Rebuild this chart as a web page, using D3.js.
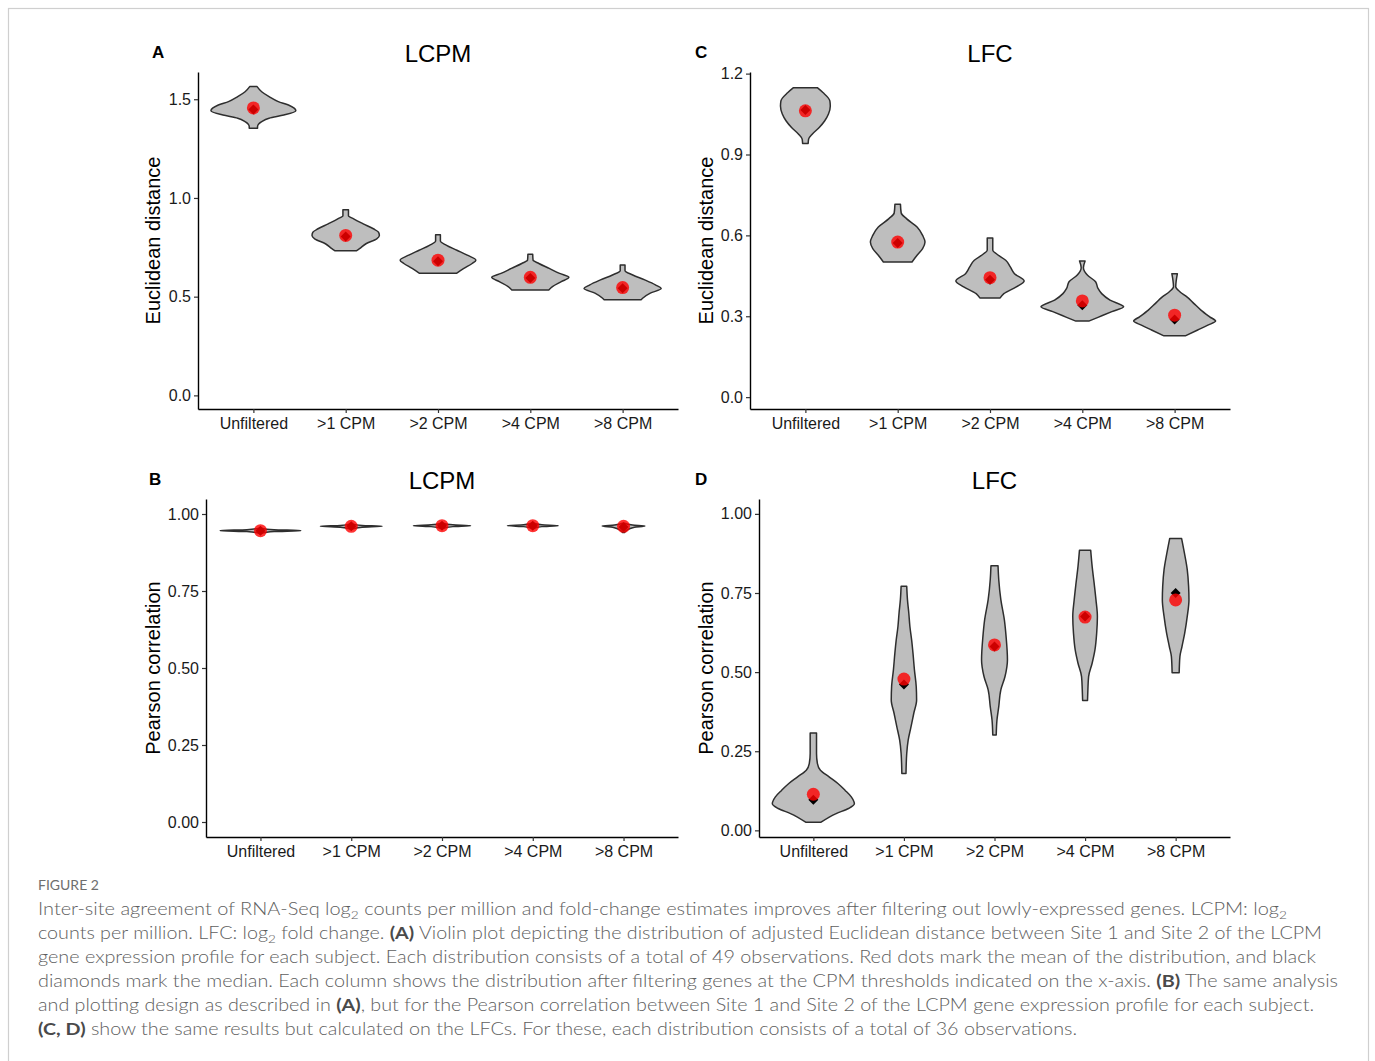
<!DOCTYPE html>
<html>
<head>
<meta charset="utf-8">
<script src="https://cdn.jsdelivr.net/npm/d3@7"></script>
<style>
body { margin: 0; background: #fff; }
svg text { font-family: "Liberation Sans", Arial, sans-serif; }
</style>
</head>
<body>
<div id="fig"></div>
<script>
const categories = ["Unfiltered", ">1 CPM", ">2 CPM", ">4 CPM", ">8 CPM"];

// violin outlines: [value, half width in category steps], top to bottom

// A: LCPM, Euclidean distance
const distLcpmTicks = [0, 0.5, 1.0, 1.5];
const distLcpmMean = [1.456, 0.810, 0.685, 0.598, 0.546];
const distLcpmMedian = [1.448, 0.805, 0.680, 0.594, 0.542];
const distLcpmShape = [
    [[1.564, 0.04], [1.538, 0.09], [1.513, 0.17], [1.488, 0.27], [1.471, 0.38], [1.442, 0.46], [1.420, 0.33], [1.404, 0.17], [1.387, 0.09], [1.362, 0.045], [1.353, 0.045]],
    [[0.940, 0.03], [0.910, 0.03], [0.894, 0.086], [0.869, 0.19], [0.844, 0.30], [0.827, 0.355], [0.810, 0.365], [0.793, 0.336], [0.768, 0.22], [0.743, 0.15], [0.732, 0.115]],
    [[0.813, 0.026], [0.782, 0.026], [0.760, 0.093], [0.735, 0.205], [0.710, 0.317], [0.685, 0.41], [0.668, 0.37], [0.643, 0.28], [0.618, 0.20]],
    [[0.715, 0.026], [0.685, 0.03], [0.668, 0.093], [0.643, 0.205], [0.618, 0.317], [0.598, 0.418], [0.576, 0.336], [0.551, 0.24], [0.534, 0.20]],
    [[0.660, 0.026], [0.631, 0.026], [0.610, 0.11], [0.585, 0.24], [0.560, 0.355], [0.541, 0.418], [0.518, 0.30], [0.493, 0.22], [0.484, 0.20]]
];

// B: LCPM, Pearson correlation
const corLcpmTicks = [0, 0.25, 0.5, 0.75, 1.0];
const corLcpmMean = [0.946, 0.960, 0.962, 0.962, 0.960];
const corLcpmMedian = [0.946, 0.960, 0.962, 0.962, 0.958];
const corLcpmShape = [
    [[0.954, 0.01], [0.949, 0.15], [0.946, 0.445], [0.943, 0.15], [0.937, 0.01]],
    [[0.968, 0.01], [0.963, 0.12], [0.960, 0.34], [0.957, 0.12], [0.951, 0.01]],
    [[0.970, 0.01], [0.965, 0.12], [0.962, 0.315], [0.959, 0.12], [0.953, 0.01]],
    [[0.970, 0.01], [0.965, 0.10], [0.962, 0.28], [0.959, 0.10], [0.953, 0.01]],
    [[0.970, 0.01], [0.964, 0.10], [0.961, 0.235], [0.957, 0.12], [0.946, 0.03], [0.940, 0.01]]
];

// C: LFC, Euclidean distance
const distLfcTicks = [0, 0.3, 0.6, 0.9, 1.2];
const distLfcMean = [1.062, 0.575, 0.443, 0.357, 0.304];
const distLfcMedian = [1.065, 0.572, 0.435, 0.341, 0.288];
const distLfcShape = [
    [[1.148, 0.129], [1.130, 0.19], [1.099, 0.265], [1.080, 0.27], [1.050, 0.25], [1.025, 0.21], [1.000, 0.15], [0.976, 0.076], [0.957, 0.035], [0.941, 0.03]],
    [[0.715, 0.03], [0.683, 0.038], [0.662, 0.095], [0.631, 0.21], [0.600, 0.27], [0.575, 0.296], [0.551, 0.27], [0.526, 0.21], [0.501, 0.155]],
    [[0.590, 0.03], [0.545, 0.03], [0.530, 0.076], [0.508, 0.17], [0.483, 0.22], [0.458, 0.265], [0.431, 0.37], [0.409, 0.285], [0.384, 0.15], [0.368, 0.11]],
    [[0.505, 0.03], [0.480, 0.012], [0.452, 0.057], [0.428, 0.144], [0.403, 0.17], [0.384, 0.21], [0.360, 0.30], [0.335, 0.448], [0.317, 0.32], [0.296, 0.17], [0.282, 0.07]],
    [[0.458, 0.03], [0.409, 0.012], [0.391, 0.057], [0.372, 0.133], [0.347, 0.21], [0.323, 0.285], [0.298, 0.38], [0.282, 0.444], [0.267, 0.36], [0.249, 0.25], [0.228, 0.12]]
];

// D: LFC, Pearson correlation
const corLfcTicks = [0, 0.25, 0.5, 0.75, 1.0];
const corLfcMean = [0.114, 0.478, 0.586, 0.674, 0.728];
const corLfcMedian = [0.097, 0.461, 0.581, 0.676, 0.750];
const corLfcShape = [
    [[0.308, 0.035], [0.275, 0.035], [0.243, 0.035], [0.211, 0.045], [0.190, 0.078], [0.169, 0.174], [0.148, 0.271], [0.127, 0.349], [0.106, 0.419], [0.084, 0.453], [0.069, 0.388], [0.053, 0.252], [0.026, 0.085]],
    [[0.771, 0.031], [0.729, 0.039], [0.686, 0.054], [0.644, 0.066], [0.602, 0.085], [0.560, 0.10], [0.507, 0.116], [0.454, 0.136], [0.412, 0.14], [0.370, 0.109], [0.327, 0.078], [0.285, 0.047], [0.243, 0.031], [0.180, 0.023]],
    [[0.836, 0.039], [0.792, 0.047], [0.729, 0.07], [0.665, 0.109], [0.612, 0.128], [0.539, 0.143], [0.486, 0.116], [0.444, 0.07], [0.391, 0.047], [0.348, 0.027], [0.301, 0.019]],
    [[0.885, 0.062], [0.834, 0.078], [0.781, 0.10], [0.729, 0.12], [0.676, 0.136], [0.623, 0.128], [0.570, 0.109], [0.528, 0.078], [0.486, 0.039], [0.444, 0.031], [0.410, 0.027]],
    [[0.922, 0.066], [0.876, 0.097], [0.824, 0.128], [0.771, 0.143], [0.729, 0.147], [0.676, 0.128], [0.623, 0.10], [0.581, 0.07], [0.549, 0.047], [0.498, 0.039]]
];

const captionLines = [
    [["Inter-site agreement of RNA-Seq log"], ["2", "sub"], [" counts per million and fold-change estimates improves after filtering out lowly-expressed genes. LCPM: log"], ["2", "sub"]],
    [["counts per million. LFC: log"], ["2", "sub"], [" fold change. "], ["(A)", "b"], [" Violin plot depicting the distribution of adjusted Euclidean distance between Site 1 and Site 2 of the LCPM"]],
    [["gene expression profile for each subject. Each distribution consists of a total of 49 observations. Red dots mark the mean of the distribution, and black"]],
    [["diamonds mark the median. Each column shows the distribution after filtering genes at the CPM thresholds indicated on the x-axis. "], ["(B)", "b"], [" The same analysis"]],
    [["and plotting design as described in "], ["(A)", "b"], [", but for the Pearson correlation between Site 1 and Site 2 of the LCPM gene expression profile for each subject."]],
    [["(C, D)", "b"], [" show the same results but calculated on the LFCs. For these, each distribution consists of a total of 36 observations."]]
];
const captionRight = [1287, 1322, 1316, 1338, 1314, 1077];


violinPanel = function () {
    let box = [0, 400, 0, 300],   // left, right, top, bottom
    yDomain = [0, 1],
    ticks = [],
    fmt = ".1f",
    title = "",
    yLabel = "",
    labelX = 0,
    tag = "",
    tagPos = [0, 0];

    function chart(selection) {
        let data = selection.datum();
        let [x0, x1, y0, y1] = box;

        let g = selection.append("g");

        let x = d3.scalePoint()
            .domain(categories)
            .range([x0, x1])
            .padding(0.6);

        let y = d3.scaleLinear()
            .domain(yDomain)
            .range([y1, y0]);

        let area = d3.area()
            .y(d => y(d[0]))
            .x0(d => -d[1] * x.step())
            .x1(d => d[1] * x.step())
            .curve(d3.curveMonotoneY);

        g.append("g")
            .attr("class", "violins")
            .selectAll("path")
            .data(data.shape)
            .enter().append("path")
            .attr("transform", (d, i) => "translate(" + x(categories[i]) + ",0)")
            .attr("d", area)
            .attr("fill", "#bebebe")
            .attr("stroke", "#2e2e2e")
            .attr("stroke-width", 1.5)
            .attr("stroke-linejoin", "round");

        // black diamonds = median
        g.append("g")
            .selectAll("path")
            .data(data.median)
            .enter().append("path")
            .attr("transform", (d, i) => "translate(" + x(categories[i]) + "," + y(d) + ") rotate(45)")
            .attr("d", d3.symbol(d3.symbolSquare, 50))
            .attr("fill", "#000");

        // red dots = mean
        g.append("g")
            .selectAll("circle")
            .data(data.mean)
            .enter().append("circle")
            .attr("cx", (d, i) => x(categories[i]))
            .attr("cy", d => y(d))
            .attr("r", 6.5)
            .attr("fill", "#ff0000")
            .attr("fill-opacity", 0.8);

        let yAxis = g.append("g")
            .attr("transform", "translate(" + x0 + ",0)")
            .call(d3.axisLeft(y)
                .tickValues(ticks)
                .tickFormat(d3.format(fmt))
                .tickSizeInner(4)
                .tickSizeOuter(0)
                .tickPadding(3));

        let xAxis = g.append("g")
            .attr("transform", "translate(0," + y1 + ")")
            .call(d3.axisBottom(x)
                .tickSizeInner(4)
                .tickSizeOuter(0)
                .tickPadding(5));

        [xAxis, yAxis].forEach(a => {
            a.select(".domain").attr("stroke", "#000").attr("stroke-width", 1.4);
            a.selectAll(".tick line").attr("stroke", "#333").attr("stroke-width", 1.2);
            a.selectAll(".tick text")
                .attr("fill", "#1a1a1a")
                .style("font-size", "16px")
                .style("font-family", "'Liberation Sans', Arial, sans-serif");
        });

        g.append("text")
            .attr("x", (x0 + x1) / 2)
            .attr("y", y0 - 10)
            .attr("text-anchor", "middle")
            .style("font-size", "24px")
            .style("fill", "#000")
            .text(title);

        g.append("text")
            .attr("transform", "translate(" + labelX + "," + (y0 + y1) / 2 + ") rotate(-90)")
            .attr("text-anchor", "middle")
            .style("font-size", "20px")
            .style("fill", "#000")
            .text(yLabel);

        g.append("text")
            .attr("x", tagPos[0])
            .attr("y", tagPos[1])
            .style("font-size", "17px")
            .style("font-weight", "bold")
            .style("fill", "#000")
            .text(tag);
    }

    chart.box = function (b) {
        if (!arguments.length) return box;
        box = b;
        return chart;
    };
    chart.yDomain = function (d) {
        if (!arguments.length) return yDomain;
        yDomain = d;
        return chart;
    };
    chart.ticks = function (t, f) {
        if (!arguments.length) return ticks;
        ticks = t;
        fmt = f;
        return chart;
    };
    chart.title = function (t) {
        if (!arguments.length) return title;
        title = t;
        return chart;
    };
    chart.yLabel = function (t, lx) {
        if (!arguments.length) return yLabel;
        yLabel = t;
        labelX = lx;
        return chart;
    };
    chart.tag = function (t, pos) {
        if (!arguments.length) return tag;
        tag = t;
        tagPos = pos;
        return chart;
    };

    return chart;
}


let svg = d3.select("#fig").append("svg")
    .attr("width", 1375)
    .attr("height", 1061)
    .style("display", "block");

svg.append("rect")
    .attr("width", 1375).attr("height", 1061)
    .attr("fill", "#fff");

svg.append("rect")
    .attr("x", 8.5).attr("y", 8.5)
    .attr("width", 1360).attr("height", 1070)
    .attr("fill", "none")
    .attr("stroke", "#cfcfcf")
    .attr("stroke-width", 1.2);

svg.append("g")
    .datum({shape: distLcpmShape, mean: distLcpmMean, median: distLcpmMedian})
    .call(violinPanel()
        .box([198, 678, 72, 409])
        .yDomain([-0.069, 1.638])
        .ticks(distLcpmTicks, ".1f")
        .title("LCPM")
        .yLabel("Euclidean distance", 160)
        .tag("A", [152, 58]));

svg.append("g")
    .datum({shape: distLfcShape, mean: distLfcMean, median: distLfcMedian})
    .call(violinPanel()
        .box([750, 1230, 72, 409])
        .yDomain([-0.044, 1.206])
        .ticks(distLfcTicks, ".1f")
        .title("LFC")
        .yLabel("Euclidean distance", 713)
        .tag("C", [695, 58]));

svg.append("g")
    .datum({shape: corLcpmShape, mean: corLcpmMean, median: corLcpmMedian})
    .call(violinPanel()
        .box([206, 678, 499, 837])
        .yDomain([-0.0487, 1.0487])
        .ticks(corLcpmTicks, ".2f")
        .title("LCPM")
        .yLabel("Pearson correlation", 160)
        .tag("B", [149, 485]));

svg.append("g")
    .datum({shape: corLfcShape, mean: corLfcMean, median: corLfcMedian})
    .call(violinPanel()
        .box([759, 1230, 499, 837])
        .yDomain([-0.021, 1.047])
        .ticks(corLfcTicks, ".2f")
        .title("LFC")
        .yLabel("Pearson correlation", 713)
        .tag("D", [695, 485]));


// caption
let cap = svg.append("g")
    .style("font-family", "Lato, 'Open Sans', sans-serif");

cap.append("text")
    .attr("x", 38)
    .attr("y", 890)
    .style("font-family", "Lato, 'Open Sans', sans-serif")
    .style("font-size", "14px")
    .style("fill", "#6e6e6e")
    .text("FIGURE 2");

captionLines.forEach((line, i) => {
    let t = cap.append("text")
        .attr("x", 38)
        .attr("y", 915 + i * 24)
        .attr("textLength", captionRight[i] - 38)
        .attr("lengthAdjust", "spacingAndGlyphs")
        .style("white-space", "pre")
        .style("font-family", "Lato, 'Open Sans', sans-serif")
        .style("font-weight", 300)
        .style("font-size", "17.5px")
        .style("fill", "#5e5e5e");

    let wasSub = false;
    line.forEach(seg => {
        let s = t.append("tspan").text(seg[0]);
        if (seg[1] === "sub") {
            s.attr("dy", 4).style("font-size", "12px");
            wasSub = true;
        } else {
            if (wasSub) s.attr("dy", -4);
            wasSub = false;
            if (seg[1] === "b") s.style("font-weight", "bold").style("fill", "#4a4a4a");
        }
    });
});
</script>
</body>
</html>
